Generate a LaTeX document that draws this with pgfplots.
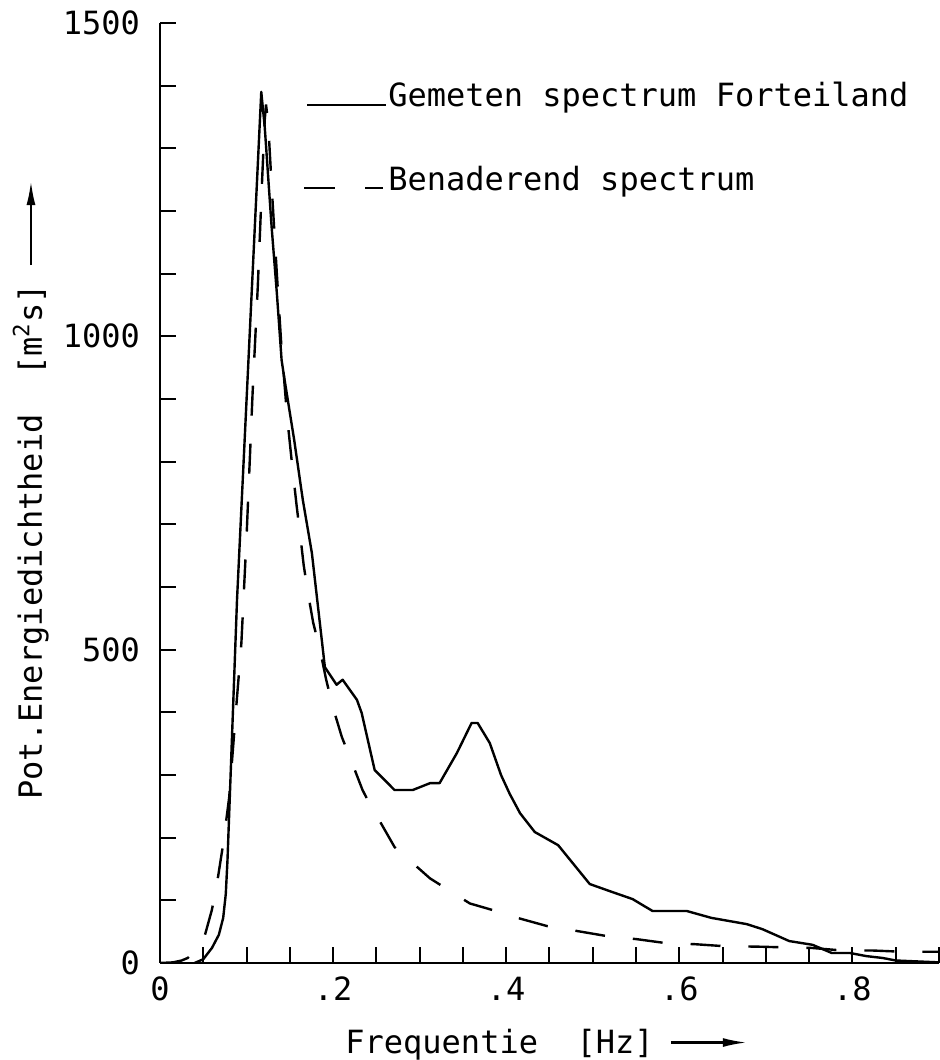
\documentclass[border=0pt]{standalone}
\usepackage{fontspec}
\setmainfont{DejaVu Sans Mono}
\usepackage{pgfplots}
\usepackage{pgfplotstable}
\pgfplotsset{compat=1.18}
\usetikzlibrary{arrows.meta}

% measured wave energy spectrum (Forteiland)
\pgfplotstableread{
f E
0.040 0
0.050 6
0.060 24
0.068 45
0.073 72
0.076 110
0.078 165
0.089 580
0.117 1390
0.121 1334
0.129 1174
0.135 1069
0.1405 962
0.144 930
0.155 835
0.165 739
0.1755 654
0.1905 472
0.204 444
0.211 452
0.2275 420
0.233 399
0.248 308
0.271 276
0.292 276
0.312 287
0.323 287
0.343 335
0.360 383
0.367 383
0.381 351
0.394 300
0.404 270
0.416 239
0.433 209
0.460 188
0.4965 126
0.523 113
0.546 102
0.569 83
0.6085 83
0.637 72
0.678 62
0.696 54
0.727 35
0.754 29
0.776 16
0.797 16
0.816 11
0.835 8
0.850 4
0.900 1
}\measured

% approximating spectrum
\pgfplotstableread{
f E
0.000 0
0.015 1
0.025 4
0.032 8
0.045 25
0.052 45
0.060 85
0.067 137
0.073 190
0.080 265
0.087 390
0.094 510
0.100 680
0.107 910
0.113 1080
0.118 1250
0.121 1345
0.1225 1370
0.125 1340
0.129 1240
0.135 1100
0.140 990
0.147 870
0.153 790
0.158 728
0.162 683
0.166 635
0.171 590
0.177 543
0.185 499
0.192 452
0.200 407
0.210 361
0.222 319
0.234 276
0.240 260
0.271 185
0.312 135
0.358 95
0.393 81
0.413 72
0.447 59
0.482 51
0.516 43
0.551 38
0.583 32
0.618 30
0.650 27
0.693 26
0.720 25
0.753 24
0.788 20
0.822 20
0.857 18
0.891 18
0.900 18
}\approxspec

\begin{document}
\fontsize{16}{19}\selectfont
\begin{tikzpicture}
\begin{axis}[
  at={(0,0)}, anchor=south west,
  scale only axis, width=389.5pt, height=470pt,
  xmin=0, xmax=0.9, ymin=0, ymax=1500,
  axis x line=bottom, axis y line=left,
  axis line style={-, line width=1.1pt, black},
  tick align=inside, major tick length=7.8pt,
  tick style={line width=1pt, black},
  xtick={0,0.05,0.1,0.15,0.2,0.25,0.3,0.35,0.4,0.45,0.5,0.55,0.6,0.65,0.7,0.75,0.8,0.85,0.9},
  xticklabels={0,,,,.2,,,,.4,,,,.6,,,,.8,,},
  ytick={0,100,...,1500},
  yticklabels={0,,,,,500,,,,,1000,,,,,1500},
  xticklabel style={yshift=-1.5pt},
  yticklabel style={xshift=-4.5pt},
  xlabel={Frequentie\ \ [Hz]\hspace{8pt}\tikz[baseline]{\draw[line width=1.1pt,-{Latex[length=12pt,width=4.5pt]}] (0,5.5pt)--(38pt,5.5pt);}},
  ylabel={Pot.Energiedichtheid\ \ [m\textsuperscript{2}s]\hspace{9pt}\tikz[baseline]{\draw[line width=1.1pt,-{Latex[length=12pt,width=4.5pt]}] (0,5.5pt)--(42pt,5.5pt);}},
  xlabel style={at={(rel axis cs:0.2375,-0.0963)}, anchor=base west, inner sep=0pt},
  ylabel style={at={(rel axis cs:-0.1515,0.1734)}, anchor=base west, inner sep=0pt},
]
\addplot[black, line width=1.2pt, line join=round] table[x=f, y=E] {\measured};
\addplot[black, line width=1.2pt, dash pattern=on 15pt off 14pt] table[x=f, y=E] {\approxspec};

\node[anchor=base west, inner sep=0pt] at (axis cs:0.1697,1366)
  {\makebox[40.5pt][l]{\rule[0.5pt]{39.5pt}{1pt}}Gemeten spectrum Forteiland};
\node[anchor=base west, inner sep=0pt] at (axis cs:0.1663,1233)
  {\makebox[42pt][l]{\rule[0.5pt]{15.5pt}{1pt}\hspace{15pt}\rule[0.5pt]{9pt}{1pt}}Benaderend spectrum};
\end{axis}
\pgfresetboundingbox
\path[use as bounding box] (-80pt,-48.5pt) rectangle (389.5pt,481.5pt);
\end{tikzpicture}
\end{document}
